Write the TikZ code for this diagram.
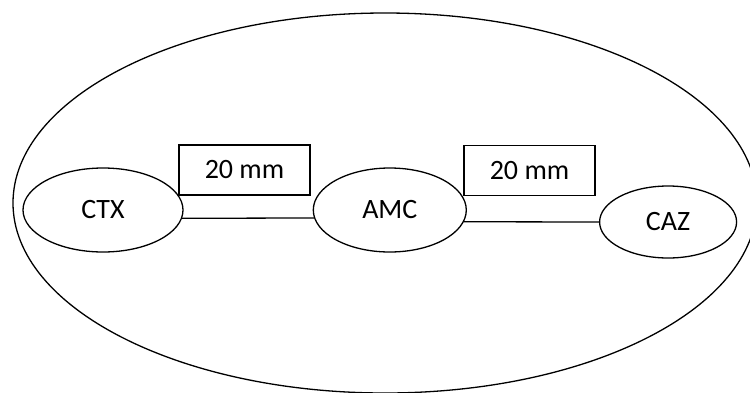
\documentclass[tikz,border=0pt]{standalone}
\usepackage{fontspec}
\setmainfont{Carlito}
\usetikzlibrary{shapes.geometric,positioning}

\begin{document}
\begin{tikzpicture}[x=1pt,y=-1pt,
      every node/.style={font=\fontsize{28}{32}\selectfont, inner sep=0pt},
      region/.style={draw, ellipse, line width=1.3pt},
      dist box/.style={draw, rectangle, line width=1.1pt, minimum width=131pt, minimum height=50pt},
      every path/.style={line width=1.3pt}
   ]
      \useasboundingbox (0,0) rectangle (750,392);
      \node[region, minimum width=744pt, minimum height=380pt] (brain) at (385,203) {};

      \node[region, minimum width=160pt, minimum height=84pt] (CTX) at (103,210) {CTX};
      \node[region, minimum width=153pt, minimum height=84pt, right=129pt of CTX] (AMC) {AMC};
      \node[region, minimum width=137pt, minimum height=72pt, right=132pt of AMC, yshift=-12pt] (CAZ) {CAZ};

      \node[dist box] (D1) at (244.5,170) {20 mm};
      \node[dist box] (D2) at (529.5,170.5) {20 mm};

      \draw (CTX.-6.5) -- (AMC.186.8);
      \draw (AMC.-9) -- (CAZ.west);
   \end{tikzpicture}
\end{document}
